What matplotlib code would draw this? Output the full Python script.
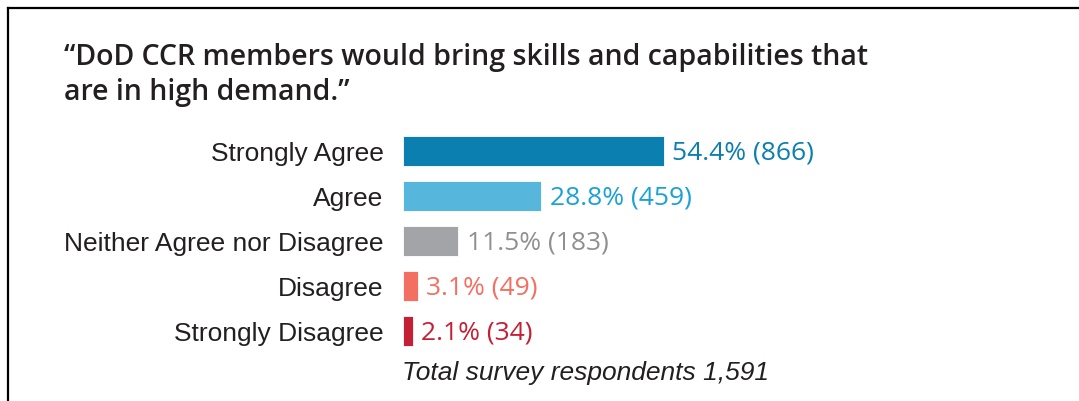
import matplotlib.pyplot as plt

# survey answers, top to bottom
categories = ["Strongly Agree", "Agree", "Neither Agree nor Disagree", "Disagree", "Strongly Disagree"]
percents = [54.4, 28.8, 11.5, 3.1, 2.1]
counts = [866, 459, 183, 49, 34]
bar_colors = ["#0a7fb0", "#56b6db", "#a3a4a7", "#f36f61", "#c41f35"]
text_colors = ["#0a7fb0", "#1aa2d4", "#8f9093", "#f36f61", "#c41f35"]

title = "\u201cDoD CCR members would bring skills and capabilities that\nare in high demand.\u201d"
note = "Total survey respondents 1,591"

W, H = 1079, 402
fig = plt.figure(figsize=(W / 100, H / 100), dpi=100)

# frame lines (top and left)
fig.add_artist(plt.Line2D([8 / W, 1], [1 - 9 / H, 1 - 9 / H], color="black", lw=1.6))
fig.add_artist(plt.Line2D([8 / W, 8 / W], [0, 1 - 9 / H], color="black", lw=1.6))

# title, two lines placed by baseline
lines = title.split("\n")
fig.text(64 / W, 1 - 65 / H, lines[0], fontsize=20.5, fontfamily="Open Sans", fontweight="semibold",
         color="#231f20", va="baseline", ha="left")
fig.text(64 / W, 1 - 100 / H, lines[1], fontsize=20.5, fontfamily="Open Sans", fontweight="semibold",
         color="#231f20", va="baseline", ha="left")

# bar axes: 4.8 px per percent, 45 px per row
row_h = 45
top = 129.2
ax = fig.add_axes([403 / W, 1 - (top + 5 * row_h) / H, 480 / W, 5 * row_h / H])
y = list(range(len(categories)))
ax.barh(y, percents, height=30 / row_h, color=bar_colors, edgecolor="white", linewidth=0.6)
ax.set_xlim(0, 100)
ax.set_ylim(4.5, -0.5)

for i in y:
    ax.annotate(f"{percents[i]}% ({counts[i]})", (percents[i], i), xytext=(6, -1),
                textcoords="offset points", va="center", ha="left", fontsize=19,
                fontfamily="Open Sans", color=text_colors[i])

ax.set_yticks(y)
ax.set_yticklabels(categories, fontsize=19, fontfamily="Liberation Sans", color="#231f20")
ax.tick_params(axis="y", length=0, pad=14)
ax.set_xticks([])
for s in ax.spines.values():
    s.set_visible(False)

# footnote
fig.text(402 / W, 1 - 373 / H, note, fontsize=19, fontfamily="Liberation Sans", style="italic",
         color="#231f20", va="center", ha="left")

plt.savefig("out.png", dpi=100)
